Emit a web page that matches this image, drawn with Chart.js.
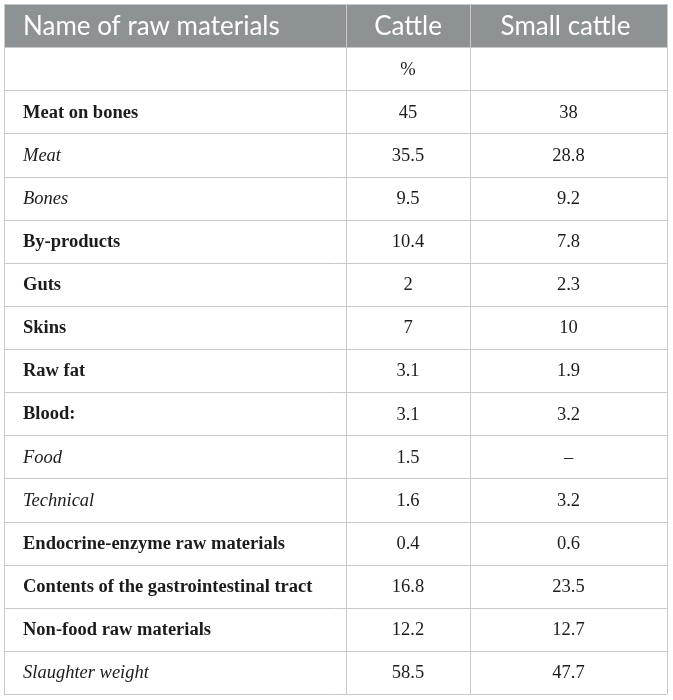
<!DOCTYPE html>
<html>
<head>
<meta charset="utf-8">
<script src="https://cdn.jsdelivr.net/npm/chart.js@4/dist/chart.umd.min.js"></script>
<style>
  html, body { margin: 0; padding: 0; background: #fff; }
  #table-chart { display: block; }
</style>
</head>
<body>
<canvas id="table-chart" width="673" height="700"></canvas>
<script>
const columnTitles = ['Name of raw materials', 'Cattle', 'Small cattle'];
const unitLabel = '%';

const materials = [
  'Meat on bones',
  'Meat',
  'Bones',
  'By-products',
  'Guts',
  'Skins',
  'Raw fat',
  'Blood:',
  'Food',
  'Technical',
  'Endocrine-enzyme raw materials',
  'Contents of the gastrointestinal tract',
  'Non-food raw materials',
  'Slaughter weight',
];

// main = bold heading row, sub = italic sub-item
const materialLevel = [
  'main', 'sub', 'sub', 'main', 'main', 'main', 'main',
  'main', 'sub', 'sub', 'main', 'main', 'main', 'sub',
];

const cattle = [45, 35.5, 9.5, 10.4, 2, 7, 3.1, 3.1, 1.5, 1.6, 0.4, 16.8, 12.2, 58.5];
const smallCattle = [38, 28.8, 9.2, 7.8, 2.3, 10, 1.9, 3.2, null, 3.2, 0.6, 23.5, 12.7, 47.7];

// column edges on the (hidden) x scale
const columnEdges = [0, 342, 466, 663];

const headerColor = '#8d9294';
const borderColor = '#c9c9c9';
const textColor = '#1c1c1c';
const bodyFont = '18.5px "Liberation Serif"';

function formatCell(value) {
  return value === null ? '–' : String(value);
}

const rowLabels = ['header', 'unit', ...materials];

const tablePlugin = {
  id: 'tableCells',
  afterDraw(chart) {
    const { ctx } = chart;
    const { x, y } = chart.scales;
    const rowHeight = y.getPixelForValue(1) - y.getPixelForValue(0);
    const left = x.getPixelForValue(columnEdges[0]);
    const right = x.getPixelForValue(columnEdges[columnEdges.length - 1]);
    const top = y.getPixelForValue(0) - rowHeight / 2;
    const bottom = y.getPixelForValue(rowLabels.length - 1) + rowHeight / 2;

    ctx.save();

    // header band
    ctx.fillStyle = headerColor;
    ctx.fillRect(left, top, right - left, rowHeight);

    // grid lines
    ctx.strokeStyle = borderColor;
    ctx.lineWidth = 1;
    ctx.beginPath();
    for (let i = 0; i <= rowLabels.length; i++) {
      const yy = Math.round(top + i * rowHeight) + 0.5;
      ctx.moveTo(left, yy);
      ctx.lineTo(right, yy);
    }
    for (const edge of columnEdges) {
      const xx = Math.round(x.getPixelForValue(edge)) + 0.5;
      ctx.moveTo(xx, top);
      ctx.lineTo(xx, bottom);
    }
    ctx.stroke();

    const colCenter = (c) =>
      (x.getPixelForValue(columnEdges[c]) + x.getPixelForValue(columnEdges[c + 1])) / 2;
    const textLeft = left + 19;

    // header text
    ctx.fillStyle = '#ffffff';
    ctx.textBaseline = 'middle';
    ctx.font = '26px Lato';
    const headY = y.getPixelForValue(0) + 1;
    ctx.textAlign = 'left';
    ctx.fillText(columnTitles[0], textLeft, headY);
    ctx.textAlign = 'center';
    ctx.fillText(columnTitles[1], colCenter(1), headY);
    ctx.fillText(columnTitles[2], colCenter(2) - 3, headY);

    // unit row
    ctx.fillStyle = textColor;
    ctx.font = bodyFont;
    ctx.fillText(unitLabel, colCenter(1), y.getPixelForValue(1) + 1);

    // body rows
    materials.forEach((name, i) => {
      const cy = y.getPixelForValue(i + 2) + 1;
      ctx.textAlign = 'left';
      ctx.font = materialLevel[i] === 'main'
        ? 'bold ' + bodyFont
        : 'italic ' + bodyFont;
      ctx.fillText(name, textLeft, cy);
      ctx.font = bodyFont;
      ctx.textAlign = 'center';
      ctx.fillText(formatCell(cattle[i]), colCenter(1), cy);
      ctx.fillText(formatCell(smallCattle[i]), colCenter(2), cy);
    });

    ctx.restore();
  },
};

new Chart(document.getElementById('table-chart'), {
  type: 'bar',
  data: {
    labels: rowLabels,
    datasets: [{ data: [] }],
  },
  options: {
    indexAxis: 'y',
    responsive: false,
    animation: false,
    events: [],
    layout: { padding: { left: 4, top: 4, right: 6, bottom: 6 } },
    plugins: {
      legend: { display: false },
      tooltip: { enabled: false },
    },
    scales: {
      x: { type: 'linear', min: columnEdges[0], max: columnEdges[3], display: false },
      y: { type: 'category', offset: true, display: false },
    },
  },
  plugins: [tablePlugin],
});
</script>
</body>
</html>
